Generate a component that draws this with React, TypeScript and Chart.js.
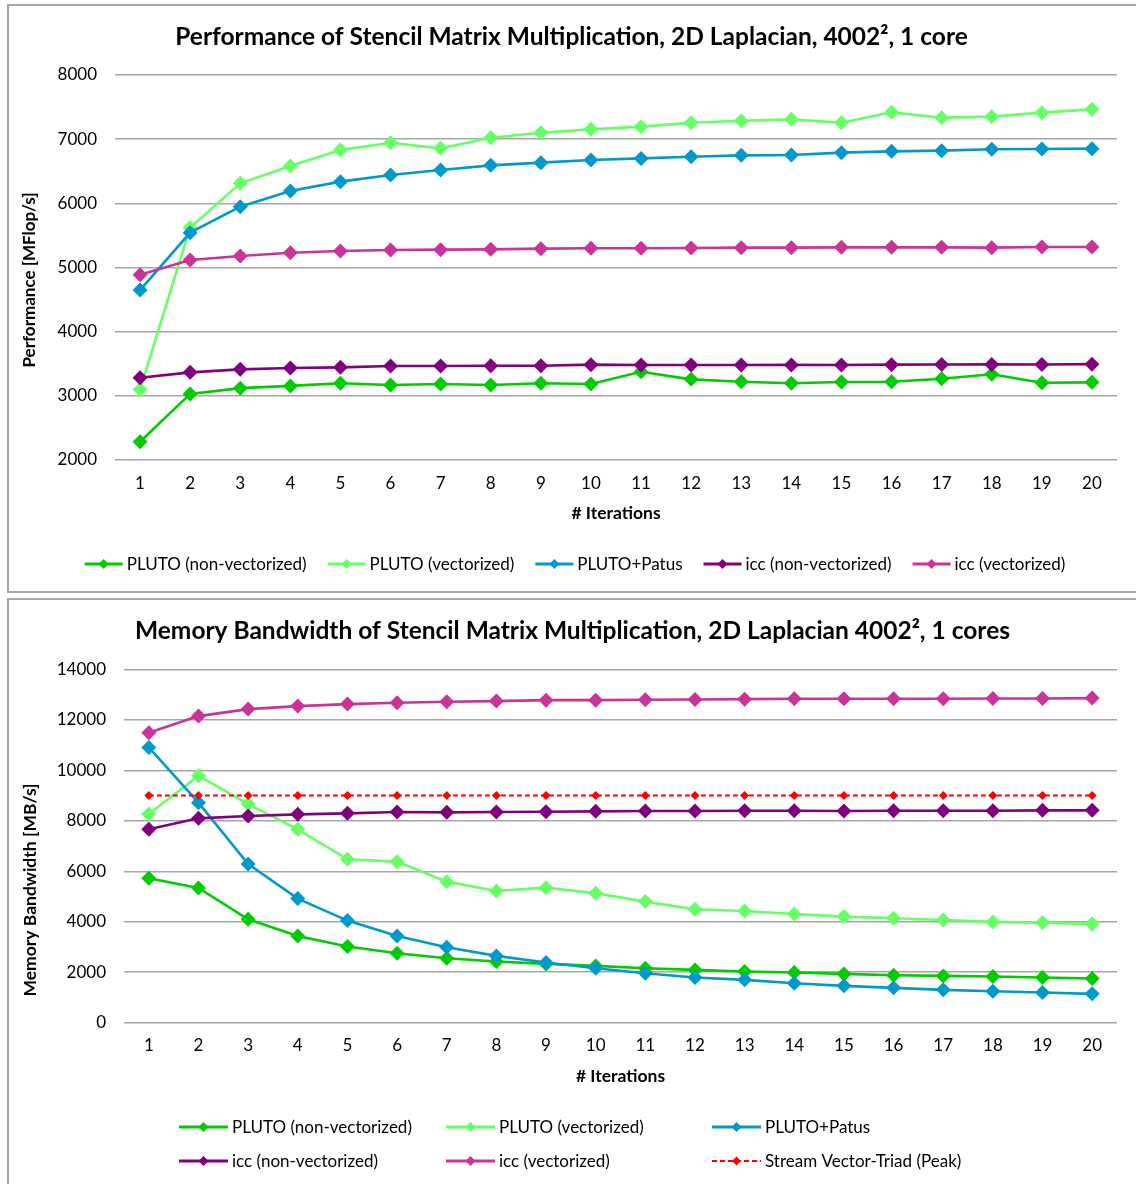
import React, { useEffect, useRef } from 'react';
import { Chart, registerables } from 'chart.js';

Chart.register(...registerables);

// ---------- data ----------
const iterations = ['1', '2', '3', '4', '5', '6', '7', '8', '9', '10', '11', '12', '13', '14', '15', '16', '17', '18', '19', '20'];

const seriesNames = ['PLUTO (non-vectorized)', 'PLUTO (vectorized)', 'PLUTO+Patus', 'icc (non-vectorized)', 'icc (vectorized)'];
const streamName = 'Stream Vector-Triad (Peak)';

// Performance [MFlop/s]
const perfPlutoNonVec = [2285, 3030, 3120, 3155, 3195, 3170, 3185, 3170, 3195, 3185, 3376, 3257, 3220, 3195, 3215, 3220, 3267, 3336, 3205, 3210];
const perfPlutoVec = [3100, 5620, 6312, 6582, 6831, 6945, 6857, 7023, 7101, 7153, 7195, 7257, 7288, 7309, 7257, 7418, 7335, 7351, 7413, 7465];
const perfPlutoPatus = [4649, 5543, 5948, 6192, 6338, 6442, 6519, 6592, 6634, 6675, 6700, 6727, 6748, 6753, 6790, 6810, 6821, 6842, 6847, 6852];
const perfIccNonVec = [3283, 3366, 3413, 3434, 3444, 3465, 3465, 3470, 3470, 3486, 3480, 3480, 3480, 3482, 3480, 3486, 3488, 3490, 3488, 3494];
const perfIccVec = [4888, 5117, 5179, 5231, 5257, 5273, 5278, 5283, 5294, 5299, 5299, 5304, 5309, 5309, 5314, 5314, 5314, 5309, 5319, 5319];

// Memory bandwidth [MB/s]
const bwPlutoNonVec = [5719, 5336, 4094, 3434, 3011, 2747, 2549, 2417, 2325, 2245, 2153, 2087, 2021, 1981, 1928, 1876, 1849, 1823, 1783, 1743];
const bwPlutoVec = [8268, 9787, 8664, 7661, 6472, 6379, 5587, 5217, 5349, 5125, 4795, 4491, 4425, 4306, 4200, 4134, 4068, 3989, 3962, 3910];
const bwPlutoPatus = [10910, 8717, 6287, 4913, 4042, 3434, 2985, 2642, 2377, 2153, 1955, 1783, 1691, 1559, 1453, 1374, 1294, 1242, 1189, 1136];
const bwIccNonVec = [7661, 8097, 8189, 8255, 8295, 8347, 8334, 8347, 8361, 8374, 8387, 8387, 8400, 8400, 8387, 8400, 8400, 8400, 8414, 8414];
const bwIccVec = [11491, 12151, 12429, 12548, 12627, 12680, 12719, 12746, 12785, 12785, 12799, 12812, 12825, 12838, 12838, 12838, 12838, 12851, 12851, 12865];
const bwStream = [9000, 9000, 9000, 9000, 9000, 9000, 9000, 9000, 9000, 9000, 9000, 9000, 9000, 9000, 9000, 9000, 9000, 9000, 9000, 9000];

// ---------- styles ----------
const FONT = 'Lato, "Open Sans", "Noto Sans", sans-serif';
const COLORS = ['#00cc00', '#66ff66', '#0099cc', '#800080', '#cc3399'];
const STREAM_COLOR = '#ff0000';
const GRID_COLOR = '#a6a6a6';

Chart.defaults.font.family = FONT;
Chart.defaults.color = '#000';

const customLegend = {
  id: 'customLegend',
  afterDraw(chart: any, _args: any, opts: any) {
    const { ctx } = chart;
    const items = chart.data.datasets;
    ctx.save();
    ctx.font = `${opts.fontSize}px ${FONT}`;
    ctx.textBaseline = 'middle';
    ctx.textAlign = 'left';
    const pos: number[][] = [];
    if (opts.mode === 'row') {
      const widths = items.map((d: any) => opts.lineLen + opts.textGap + ctx.measureText(d.label).width);
      const total = widths.reduce((a: number, b: number) => a + b, 0) + opts.itemGap * (items.length - 1);
      let x = opts.centerX - total / 2;
      items.forEach((_d: any, i: number) => {
        pos.push([x, opts.rows[0]]);
        x += widths[i] + opts.itemGap;
      });
    } else {
      items.forEach((_d: any, i: number) => {
        const c = i % opts.columns.length;
        const r = Math.floor(i / opts.columns.length);
        pos.push([opts.columns[c], opts.rows[r]]);
      });
    }
    items.forEach((d: any, i: number) => {
      const [x, y] = pos[i];
      ctx.strokeStyle = d.borderColor;
      ctx.lineWidth = d.borderDash ? 2 : opts.lineWidth;
      ctx.setLineDash(d.borderDash ? d.borderDash : []);
      ctx.beginPath();
      ctx.moveTo(x, y);
      ctx.lineTo(x + opts.lineLen, y);
      ctx.stroke();
      ctx.setLineDash([]);
      const cx = x + opts.lineLen / 2;
      const r = d.borderDash ? opts.markerRadius * 0.9 : opts.markerRadius;
      ctx.fillStyle = d.pointBackgroundColor;
      ctx.beginPath();
      ctx.moveTo(cx, y - r);
      ctx.lineTo(cx + r, y);
      ctx.lineTo(cx, y + r);
      ctx.lineTo(cx - r, y);
      ctx.closePath();
      ctx.fill();
      ctx.fillStyle = '#000';
      ctx.fillText(d.label, x + opts.lineLen + opts.textGap, y + 1);
    });
    ctx.restore();
  },
};

const yTitle = {
  id: 'yTitle',
  afterDraw(chart: any, _args: any, opts: any) {
    const { ctx, chartArea } = chart;
    ctx.save();
    const cy = (chartArea.top + chartArea.bottom) / 2 + opts.shift;
    ctx.translate(opts.x, cy);
    ctx.rotate(-Math.PI / 2);
    ctx.font = `bold ${opts.size}px ${FONT}`;
    ctx.textAlign = 'center';
    ctx.textBaseline = 'middle';
    ctx.fillStyle = '#000';
    ctx.fillText(opts.text, 0, 0);
    ctx.restore();
  },
};

function lineDataset(label: string, data: number[], color: string, i: number, radius: number) {
  return {
    label,
    data,
    borderColor: color,
    backgroundColor: color,
    pointBackgroundColor: color,
    pointBorderColor: color,
    pointBorderWidth: 0,
    pointStyle: 'rectRot',
    pointRadius: radius,
    borderWidth: 2.6,
    tension: 0,
    fill: false,
    order: 10 - i,
  };
}

function makeConfig(p: any) {
  return {
    type: 'line',
    data: { labels: iterations, datasets: p.datasets },
    plugins: [customLegend, yTitle],
    options: {
      animation: false,
      responsive: false,
      devicePixelRatio: 1,
      layout: { padding: { top: 0, left: p.padLeft, right: 19, bottom: 0 } },
      plugins: {
        legend: { display: false },
        tooltip: { enabled: false },
        title: {
          display: true,
          text: p.title,
          color: '#000',
          font: { size: 24.5, weight: 'bold', family: FONT, lineHeight: 1.2 },
          padding: { top: p.titleTop, bottom: p.titleBottom },
        },
        customLegend: p.legend,
        yTitle: p.yTitle,
      },
      scales: {
        x: {
          offset: true,
          grid: { display: false, drawTicks: false },
          border: { display: false },
          ticks: { font: { size: 17, family: FONT }, color: '#000', padding: 13, maxRotation: 0, autoSkip: false },
          title: {
            display: true,
            text: '# Iterations',
            color: '#000',
            font: { size: 17.5, weight: 'bold', family: FONT, lineHeight: 1.2 },
            padding: { top: 0, bottom: p.xTitleBottom },
          },
          afterFit: (axis: any) => { axis.height = p.xAxisHeight; },
        },
        y: {
          min: p.yMin,
          max: p.yMax,
          grid: { color: GRID_COLOR, lineWidth: 1.4, drawTicks: false },
          border: { display: false },
          ticks: {
            stepSize: p.yStep,
            font: { size: 17, family: FONT },
            color: '#000',
            padding: 18,
            callback: (v: any) => String(v),
          },
          afterFit: (axis: any) => { axis.width = p.yAxisWidth; },
        },
      },
    },
  };
}

const topConfig = () =>
  makeConfig({
    title: 'Performance of Stencil Matrix Multiplication, 2D Laplacian, 4002², 1 core',
    datasets: [
      lineDataset(seriesNames[0], perfPlutoNonVec, COLORS[0], 0, 7.5),
      lineDataset(seriesNames[1], perfPlutoVec, COLORS[1], 1, 7.5),
      lineDataset(seriesNames[2], perfPlutoPatus, COLORS[2], 2, 7.5),
      lineDataset(seriesNames[3], perfIccNonVec, COLORS[3], 3, 7.5),
      lineDataset(seriesNames[4], perfIccVec, COLORS[4], 4, 7.5),
    ],
    padLeft: 26,
    yAxisWidth: 89,
    titleTop: 22.3,
    titleBottom: 23.3,
    xAxisHeight: 135,
    xTitleBottom: 71.5,
    yMin: 2000,
    yMax: 8000,
    yStep: 1000,
    legend: { mode: 'row', centerX: 575, rows: [564], lineLen: 38, textGap: 4, itemGap: 21, lineWidth: 3, markerRadius: 5, fontSize: 17 },
    yTitle: { text: 'Performance [MFlop/s]', x: 30, shift: 12.5, size: 17 },
  });

const bottomConfig = () => {
  const stream: any = lineDataset(streamName, bwStream, STREAM_COLOR, 5, 4.5);
  stream.borderDash = [5, 3];
  stream.borderWidth = 2;
  return makeConfig({
    title: 'Memory Bandwidth of Stencil Matrix Multiplication, 2D Laplacian 4002², 1 cores',
    datasets: [
      lineDataset(seriesNames[0], bwPlutoNonVec, COLORS[0], 0, 7.5),
      lineDataset(seriesNames[1], bwPlutoVec, COLORS[1], 1, 7.5),
      lineDataset(seriesNames[2], bwPlutoPatus, COLORS[2], 2, 7.5),
      lineDataset(seriesNames[3], bwIccNonVec, COLORS[3], 3, 7.5),
      lineDataset(seriesNames[4], bwIccVec, COLORS[4], 4, 7.5),
      stream,
    ],
    padLeft: 28,
    yAxisWidth: 96,
    titleTop: 21.3,
    titleBottom: 23.8,
    xAxisHeight: 161.5,
    xTitleBottom: 97.5,
    yMin: 0,
    yMax: 14000,
    yStep: 2000,
    legend: { mode: 'grid', columns: [179, 446, 712], rows: [532, 566], lineLen: 49, textGap: 4, itemGap: 0, lineWidth: 3, markerRadius: 5, fontSize: 17 },
    yTitle: { text: 'Memory Bandwidth [MB/s]', x: 30, shift: 44, size: 17.5 },
  });
};

function ChartPanel({ makeCfg, top, height }: { makeCfg: () => any; top: number; height: number }) {
  const ref = useRef<HTMLCanvasElement | null>(null);
  useEffect(() => {
    const chart = new Chart(ref.current as HTMLCanvasElement, makeCfg());
    return () => chart.destroy();
  }, []);
  return (
    <canvas
      ref={ref}
      width={1136}
      height={height}
      style={{ position: 'absolute', left: 0, top, width: 1136, height, display: 'block' }}
    />
  );
}

export default function App() {
  const box = (top: number, height: number): React.CSSProperties => ({
    position: 'absolute',
    left: 7,
    top,
    width: 1150,
    height,
    boxSizing: 'border-box',
    border: '2px solid #a6a6a6',
    background: '#fff',
  });
  return (
    <div style={{ position: 'absolute', left: 0, top: 0, width: 1136, height: 1184, overflow: 'hidden', background: '#fff' }}>
      <div style={box(4, 589)} />
      <div style={box(598, 600)} />
      <ChartPanel makeCfg={topConfig} top={0} height={595} />
      <ChartPanel makeCfg={bottomConfig} top={595} height={589} />
    </div>
  );
}
